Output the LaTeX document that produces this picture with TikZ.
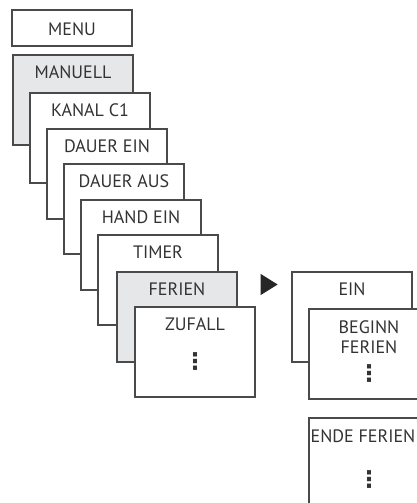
\documentclass[tikz,border=0pt]{standalone}
\usepackage{fontspec}
\setmainfont{PT Sans}
\newfontfamily\dotsfont{DejaVu Sans}
\usetikzlibrary{shapes.geometric}
\definecolor{linec}{HTML}{4A4A4A}
\definecolor{textc}{HTML}{333333}
\definecolor{boxgray}{HTML}{E6E7E8}
\tikzset{
  menubox/.style={draw=linec, line width=1.1pt, fill=white, minimum width=120pt, minimum height=90pt, anchor=north west, inner sep=0pt, outer sep=0pt},
  graybox/.style={menubox, fill=boxgray},
  boxlabel/.style={text=textc, font=\fontsize{18}{20}\selectfont, anchor=center, align=center, inner sep=0pt},
  vdotlabel/.style={text=textc, font=\dotsfont\bfseries\fontsize{23}{20}\selectfont, anchor=center, inner sep=0pt},
}
\begin{document}
\begin{tikzpicture}[x=1pt, y=-1pt]
\useasboundingbox (0,0) rectangle (417,503);
\clip (0,0) rectangle (417,503);
% top menu box
\node[menubox, minimum height=36pt] (menu) at (12,10) {};
\node[boxlabel] (tmenu) at ([yshift=-1pt]menu.center) {MENU};
% stacked boxes
\node[graybox] (manuell) at (13,55) {};
\node[boxlabel] (tmanuell) at ([yshift=-17pt]manuell.north) {MANUELL};
\node[menubox] (kanal) at (30,93) {};
\node[boxlabel] (tkanal) at ([yshift=-17pt]kanal.north) {KANAL C1};
\node[menubox] (dauerein) at (47,129) {};
\node[boxlabel] (tdauerein) at ([yshift=-17pt]dauerein.north) {DAUER EIN};
\node[menubox] (daueraus) at (64,164) {};
\node[boxlabel] (tdaueraus) at ([yshift=-17pt]daueraus.north) {DAUER AUS};
\node[menubox] (handein) at (81,200) {};
\node[boxlabel] (thandein) at ([yshift=-17pt]handein.north) {HAND EIN};
\node[menubox] (timer) at (98,235) {};
\node[boxlabel] (ttimer) at ([yshift=-17pt]timer.north) {TIMER};
\node[graybox] (ferien) at (117,272) {};
\node[boxlabel] (tferien) at ([yshift=-17pt]ferien.north) {FERIEN};
\node[menubox] (zufall) at (135,307) {};
\node[boxlabel] (tzufall) at ([yshift=-17pt]zufall.north) {ZUFALL};
\node[vdotlabel] (dzufall) at ([yshift=-55pt]zufall.north) {⋮};
% arrow marker
\node[isosceles triangle, isosceles triangle apex angle=64, fill=black!85, inner sep=0pt, minimum height=17pt, minimum width=17pt, anchor=center] (arrow) at (266.5,284.5) {};
% right column
\node[menubox] (ein) at (292,272) {};
\node[boxlabel] (tein) at ([yshift=-17pt]ein.north) {EIN};
\node[menubox] (beginn) at (309,309) {};
\node[boxlabel] (tbeginn) at ([yshift=-28pt]beginn.north) {BEGINN\\FERIEN};
\node[vdotlabel] (dbeginn) at ([yshift=-65pt]beginn.north) {⋮};
\node[menubox] (ende) at (309,418) {};
\node[boxlabel] (tende) at ([yshift=-18pt, xshift=-6pt]ende.north) {ENDE FERIEN};
\node[vdotlabel] (dende) at ([yshift=-62pt]ende.north) {⋮};
\end{tikzpicture}
\end{document}
